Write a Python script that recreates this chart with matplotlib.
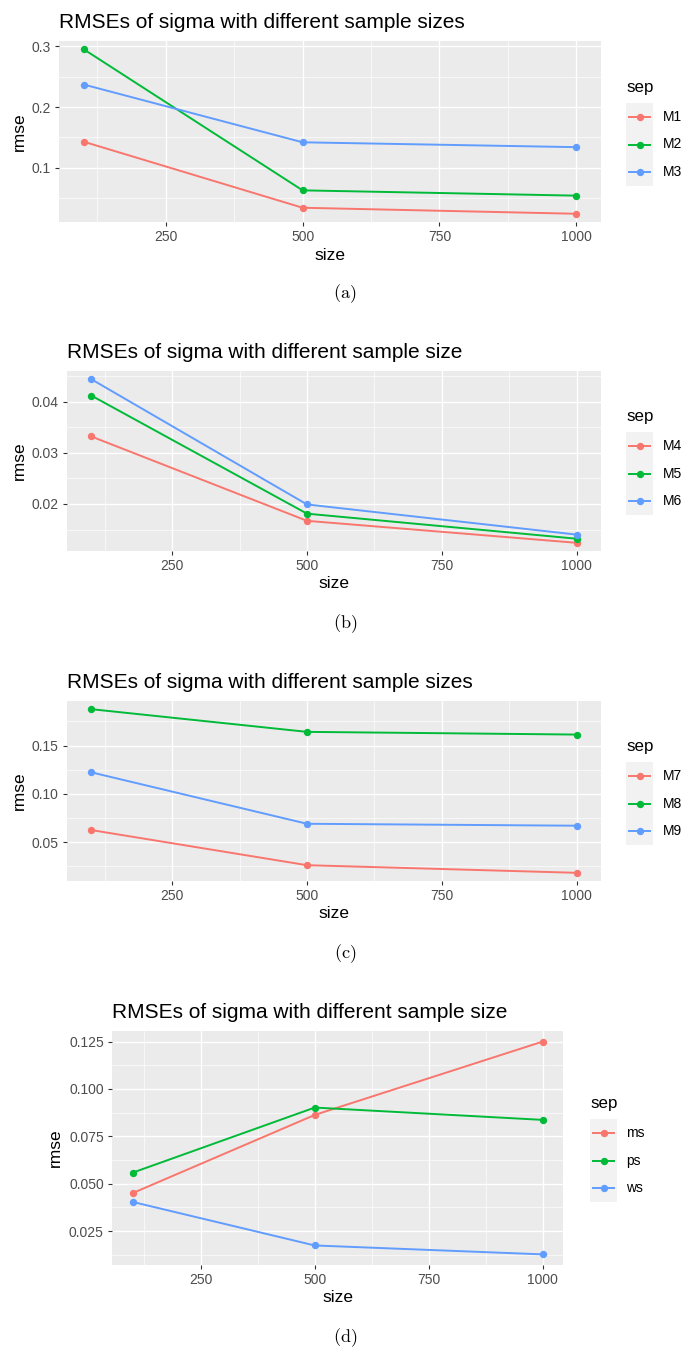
import matplotlib
matplotlib.use('Agg')
import matplotlib.pyplot as plt

W, H = 686, 1352
plt.rcParams['font.family'] = ['Liberation Sans', 'DejaVu Sans']
plt.rcParams['mathtext.fontset'] = 'cm'

# ---------------- data ----------------
sizes = [100, 500, 1000]

a_groups = ['M1', 'M2', 'M3']
a_M1 = [0.143, 0.0344, 0.0245]
a_M2 = [0.295, 0.063, 0.0543]
a_M3 = [0.237, 0.142, 0.134]

b_groups = ['M4', 'M5', 'M6']
b_M4 = [0.0332, 0.0167, 0.0124]
b_M5 = [0.0412, 0.0181, 0.0132]
b_M6 = [0.0444, 0.0199, 0.0140]

c_groups = ['M7', 'M8', 'M9']
c_M7 = [0.0625, 0.0261, 0.0182]
c_M8 = [0.1877, 0.1642, 0.1614]
c_M9 = [0.1223, 0.0690, 0.0670]

d_groups = ['ms', 'ps', 'ws']
d_ms = [0.0450, 0.0863, 0.1250]
d_ps = [0.0558, 0.0902, 0.0837]
d_ws = [0.0404, 0.0174, 0.0127]

titles = ['RMSEs of sigma with different sample sizes',
          'RMSEs of sigma with different sample size',
          'RMSEs of sigma with different sample sizes',
          'RMSEs of sigma with different sample size']
captions = ['(a)', '(b)', '(c)', '(d)']

x_major = [250, 500, 750, 1000]
x_major_labels = ['250', '500', '750', '1000']
x_minor = [125, 375, 625, 875]

a_yticks = [0.1, 0.2, 0.3]
a_ylabels = ['0.1', '0.2', '0.3']
a_yminor = [0.05, 0.15, 0.25]
b_yticks = [0.02, 0.03, 0.04]
b_ylabels = ['0.02', '0.03', '0.04']
b_yminor = [0.015, 0.025, 0.035, 0.045]
c_yticks = [0.05, 0.10, 0.15]
c_ylabels = ['0.05', '0.10', '0.15']
c_yminor = [0.025, 0.075, 0.125, 0.175]
d_yticks = [0.025, 0.050, 0.075, 0.100, 0.125]
d_ylabels = ['0.025', '0.050', '0.075', '0.100', '0.125']
d_yminor = [0.0125, 0.0375, 0.0625, 0.0875, 0.1125]

colors = ['#F8766D', '#00BA38', '#619CFF']

panels = [
    dict(groups=a_groups, series=[a_M1, a_M2, a_M3], yt=a_yticks, yl=a_ylabels, ym=a_yminor,
         box=(59, 41, 601, 222), ylab_x=19, leg=(626, 103, 653, 186), leg_lab_x=663, cap_y=294),
    dict(groups=b_groups, series=[b_M4, b_M5, b_M6], yt=b_yticks, yl=b_ylabels, ym=b_yminor,
         box=(67, 371, 601, 551), ylab_x=19, leg=(626, 432, 653, 515), leg_lab_x=663, cap_y=624),
    dict(groups=c_groups, series=[c_M7, c_M8, c_M9], yt=c_yticks, yl=c_ylabels, ym=c_yminor,
         box=(67, 701, 601, 881), ylab_x=19, leg=(626, 762, 653, 845), leg_lab_x=663, cap_y=954),
    dict(groups=d_groups, series=[d_ms, d_ps, d_ws], yt=d_yticks, yl=d_ylabels, ym=d_yminor,
         box=(112, 1031, 563, 1265), ylab_x=55, leg=(590, 1119, 617, 1202), leg_lab_x=626, cap_y=1338),
]

fig = plt.figure(figsize=(W / 100, H / 100), dpi=100)


def px_axes(x0, y0, x1, y1, **kw):
    return fig.add_axes([x0 / W, 1 - y1 / H, (x1 - x0) / W, (y1 - y0) / H], **kw)


for i, p in enumerate(panels):
    x0, y0, x1, y1 = p['box']
    ax = px_axes(x0, y0, x1, y1)
    ax.set_facecolor('#EBEBEB')
    for s in ax.spines.values():
        s.set_visible(False)
    for vals, col in zip(p['series'], colors):
        ax.plot(sizes, vals, color=col, lw=1.4, marker='o', ms=5.3,
                markeredgewidth=0, zorder=3)
    ax.set_xticks(x_major)
    ax.set_xticklabels(x_major_labels)
    ax.set_xticks(x_minor, minor=True)
    ax.set_yticks(p['yt'])
    ax.set_yticklabels(p['yl'])
    ax.set_yticks(p['ym'], minor=True)
    ax.set_axisbelow(True)
    ax.grid(which='major', color='white', lw=0.95)
    ax.grid(which='minor', color='white', lw=0.45)
    ax.tick_params(which='major', length=2.9, width=0.8, color='#333333',
                   labelcolor='#4D4D4D', labelsize=10, pad=3)
    ax.tick_params(which='minor', length=0)

    # title
    fig.text(x0 / W, 1 - (y0 - 12.7) / H, titles[i], ha='left', va='baseline',
             fontsize=15, color='black')
    # axis titles
    fig.text(((x0 + x1) / 2) / W, 1 - (y1 + 33) / H, 'size', ha='center', va='center',
             fontsize=12.5, color='black')
    fig.text(p['ylab_x'] / W, 1 - ((y0 + y1) / 2) / H, 'rmse', ha='center', va='center',
             rotation=90, fontsize=12.5, color='black')
    # caption
    fig.text(345 / W, 1 - p['cap_y'] / H, r'$\mathrm{' + captions[i] + '}$',
             ha='center', va='center', fontsize=13, color='black')

    # legend
    lx0, ly0, lx1, ly1 = p['leg']
    lax = px_axes(lx0, ly0, lx1, ly1)
    lax.set_facecolor('#F2F2F2')
    for s in lax.spines.values():
        s.set_visible(False)
    lax.set_xticks([])
    lax.set_yticks([])
    lax.set_xlim(0, 1)
    lax.set_ylim(3, 0)
    for k, (g, col) in enumerate(zip(p['groups'], colors)):
        lax.plot([0.06, 0.94], [k + 0.5, k + 0.5], color=col, lw=1.4, solid_capstyle='butt')
        lax.plot([0.5], [k + 0.5], color=col, marker='o', ms=5.3, markeredgewidth=0)
        fig.text(p['leg_lab_x'] / W, 1 - (ly0 + (ly1 - ly0) * (k + 0.5) / 3) / H, g,
                 ha='left', va='center', fontsize=10, color='black')
    fig.text(lx0 / W, 1 - (ly0 - 11.3) / H, 'sep', ha='left', va='baseline',
             fontsize=12.2, color='black')

fig.savefig('out.png', dpi=100, facecolor='white')
